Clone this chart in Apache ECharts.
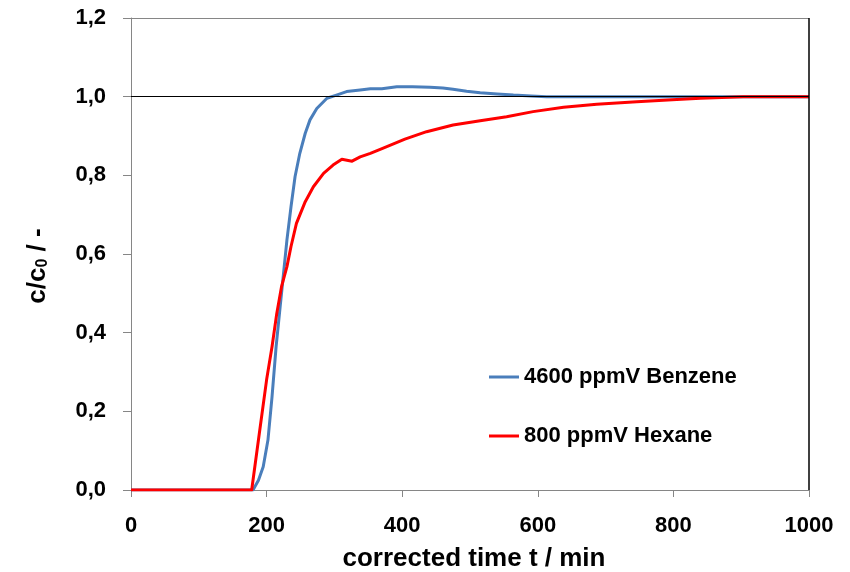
<!DOCTYPE html>
<html>
<head>
<meta charset="utf-8">
<script src="https://cdn.jsdelivr.net/npm/echarts@6/dist/echarts.min.js"></script>
<style>
html,body{margin:0;padding:0;background:#fff;}
#chart{width:850px;height:572px;}
</style>
</head>
<body>
<div id="chart"></div>
<script>
// Data
var benzeneName = '4600 ppmV Benzene';
var hexaneName = '800 ppmV Hexane';
var benzeneT = [0, 180, 188, 195, 202, 208, 214, 220, 225, 230, 236, 242, 249, 257, 264, 274, 289, 303, 318, 338, 353, 370, 392, 415, 441, 460, 475, 495, 515, 540, 564, 590, 613, 700, 800, 900, 1000];
var benzeneC = [0, 0, 0.025, 0.059, 0.127, 0.237, 0.364, 0.466, 0.551, 0.636, 0.72, 0.797, 0.856, 0.907, 0.941, 0.970, 0.996, 1.004, 1.013, 1.017, 1.020, 1.020, 1.025, 1.025, 1.024, 1.022, 1.019, 1.014, 1.010, 1.007, 1.004, 1.002, 1.0, 1.0, 1.0, 1.0, 1.0];
var hexaneT = [0, 178, 190, 200, 208, 215, 222, 230, 236, 244, 257, 269, 284, 298, 311, 326, 338, 353, 372, 404, 436, 475, 515, 554, 593, 638, 687, 746, 805, 840, 903, 1000];
var hexaneC = [0, 0, 0.153, 0.28, 0.364, 0.449, 0.517, 0.568, 0.619, 0.678, 0.733, 0.771, 0.805, 0.826, 0.841, 0.836, 0.847, 0.856, 0.869, 0.892, 0.911, 0.928, 0.939, 0.949, 0.962, 0.973, 0.981, 0.987, 0.993, 0.996, 1.0, 1.0];
var xTicks = {min: 0, max: 1000, interval: 200};
var yTicks = {min: 0, max: 1.2, interval: 0.2};

function pairs(t, c) { return t.map(function (v, i) { return [v, c[i]]; }); }

var FONT = "'Liberation Sans', Arial, sans-serif";
var chart = echarts.init(document.getElementById('chart'), null, {renderer: 'canvas'});
chart.setOption({
  animation: false,
  backgroundColor: '#fff',
  grid: {left: 131, right: 41, top: 18, bottom: 82, containLabel: false, outerBoundsMode: 'none'},
  legend: {
    data: [benzeneName, hexaneName],
    orient: 'vertical',
    left: 484, top: 361,
    itemGap: 37,
    itemWidth: 30, itemHeight: 3,
    icon: 'rect',
    textStyle: {fontFamily: FONT, fontWeight: 'bold', fontSize: 22, color: '#000'}
  },
  xAxis: {
    type: 'value', min: xTicks.min, max: xTicks.max, interval: xTicks.interval,
    name: 'corrected time t / min', nameLocation: 'middle', nameGap: 56,
    nameTextStyle: {fontFamily: FONT, fontWeight: 'bold', fontSize: 26, color: '#000', padding: [0, 0, 0, 8]},
    axisLine: {show: true, lineStyle: {color: '#868686', width: 1}},
    axisTick: {show: true, inside: false, length: 7, lineStyle: {color: '#868686'}},
    axisLabel: {
      fontFamily: FONT, fontWeight: 'bold', fontSize: 22, color: '#000', margin: 25,
      formatter: function (v) { return String(v); }
    },
    splitLine: {show: false}
  },
  yAxis: {
    type: 'value', min: yTicks.min, max: yTicks.max, interval: yTicks.interval,
    name: '{a|c/c}{s|0}{a| / -}', nameLocation: 'middle', nameGap: 80, nameRotate: 90,
    nameTextStyle: {
      padding: [0, 24, 0, 0],
      rich: {
        a: {fontFamily: FONT, fontWeight: 'bold', fontSize: 26, color: '#000'},
        s: {fontFamily: FONT, fontWeight: 'bold', fontSize: 16, color: '#000', padding: [11, 0, 0, 0]}
      }
    },
    axisLine: {show: true, lineStyle: {color: '#868686', width: 1}},
    axisTick: {show: true, inside: false, length: 8, lineStyle: {color: '#868686'}},
    axisLabel: {
      fontFamily: FONT, fontWeight: 'bold', fontSize: 22, color: '#000', margin: 25,
      padding: [6, 0, 0, 0],
      formatter: function (v) { return v.toFixed(1).replace('.', ','); }
    },
    splitLine: {show: false}
  },
  series: [
    {
      type: 'line', name: 'frame', data: [], z: 1, silent: true,
      markLine: {
        silent: true, symbol: ['none', 'none'], label: {show: false},
        animation: false,
        data: [
          {yAxis: 1.0, lineStyle: {color: '#000', width: 1, type: 'solid'}},
          {yAxis: 1.2, lineStyle: {color: '#868686', width: 1, type: 'solid'}},
          {xAxis: 1000, lineStyle: {color: '#000', width: 1.5, type: 'solid'}}
        ]
      }
    },
    {
      type: 'line', name: benzeneName, data: pairs(benzeneT, benzeneC),
      showSymbol: false, symbol: 'none', smooth: false, z: 3,
      lineStyle: {color: '#4A7EBB', width: 3, join: 'round'},
      itemStyle: {color: '#4A7EBB'}
    },
    {
      type: 'line', name: hexaneName, data: pairs(hexaneT, hexaneC),
      showSymbol: false, symbol: 'none', smooth: false, z: 4,
      lineStyle: {color: '#FF0000', width: 3, join: 'round'},
      itemStyle: {color: '#FF0000'}
    }
  ]
});
</script>
</body>
</html>
